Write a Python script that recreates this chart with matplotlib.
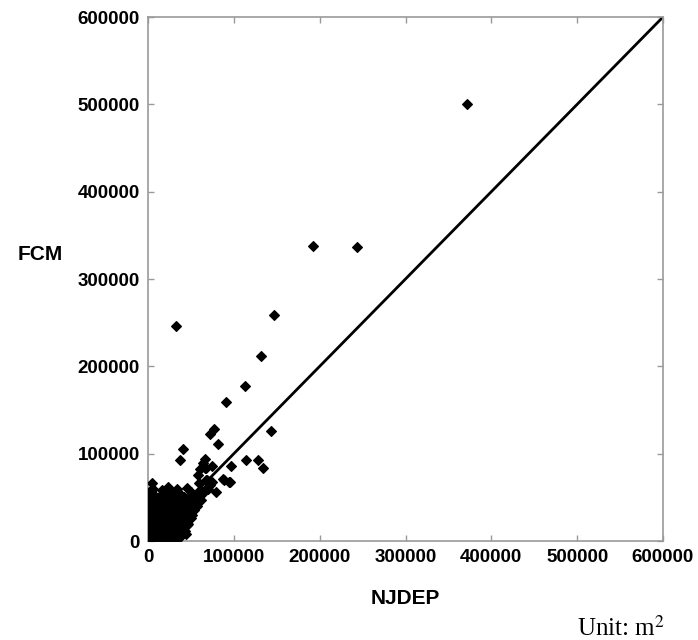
import matplotlib
matplotlib.use("Agg")
import matplotlib.pyplot as plt

# Data in m^2 (values read in thousands, then scaled)
njdep_k = [
    # dense cluster near origin
    1, 2, 3, 1, 4, 2, 5, 3, 1, 6, 2, 4, 7, 3, 5, 8, 4, 6, 5, 9, 8, 9, 10, 7, 10, 6, 12, 2, 1, 3,
    12, 14, 11, 15, 13, 16, 12, 18, 14, 17, 13, 19, 23, 16, 20, 18, 19, 16, 20, 14, 22, 24,
    21, 25, 22, 27, 24, 29, 26, 30, 23, 28, 25, 27, 29, 26, 30, 22, 28,
    32, 34, 31, 36, 33, 38, 35, 34, 37, 33, 39, 34, 36, 31, 38, 40, 35,
    42, 44, 41, 46, 43, 48, 45, 42, 47, 45, 49, 45,
    51, 54, 52, 56, 54, 58, 59, 58, 62, 57, 50, 53, 60,
    33, 38, 43, 47, 50, 44, 40, 36, 28, 24, 18, 9, 11, 7, 15, 21, 26, 31, 4, 6,
    17, 20, 10, 8, 13, 25, 32, 39, 41, 55, 48, 37,
    # along the line / moderate values
    64, 66, 68, 70, 72, 74, 67, 61, 64.5, 75, 87, 94.8, 79.6, 66.8, 36.9, 41.1,
    72.6, 76.9, 81.6, 114.2, 128.2, 134.4, 142.9, 97.1, 88, 95.5, 66.4, 68.4,
    # outliers
    90.5, 113.4, 131.3, 147, 32.6, 192, 243.5, 372,
]
fcm_k = [
    2, 5, 1, 8, 12, 15, 18, 22, 26, 28, 32, 36, 40, 44, 48, 52, 56, 60, 66, 46, 33, 24, 14, 7, 4, 3, 2, 40, 50, 58,
    8, 12, 18, 22, 27, 31, 35, 38, 42, 46, 50, 54, 62, 58, 50, 26, 17, 6, 3, 1, 8, 13,
    21, 24, 29, 33, 37, 41, 45, 48, 44, 53, 57, 18, 10, 5, 2, 40, 28,
    6, 12, 16, 20, 25, 30, 34, 39, 43, 48, 52, 60, 55, 30, 15, 22, 3,
    20, 26, 32, 35, 40, 44, 48, 50, 30, 18, 38, 61,
    30, 36, 42, 45, 53, 48, 66, 76, 47, 40, 56, 52, 58,
    1, 6, 12, 20, 26, 8, 10, 8, 0.5, 4, 1, 10, 30, 20, 35, 45, 35, 45, 30, 22,
    28, 36, 42, 47, 32, 50, 28, 24, 28, 44, 35, 20,
    55, 58, 70, 60, 64, 68, 84, 83, 89, 86, 70.6, 67.6, 56.1, 93.9, 92.4, 105,
    122.2, 128.2, 110.7, 92.4, 92.7, 83.2, 126, 85.9, 70, 68, 83.2, 70,
    158.8, 177.1, 211.8, 259, 246.5, 338, 336.5, 500,
]
scale = 1000
njdep = [v * scale for v in njdep_k]
fcm = [v * scale for v in fcm_k]

axis_max = 600000
ticks = [0, 100000, 200000, 300000, 400000, 500000, 600000]
tick_labels = ["0", "100000", "200000", "300000", "400000", "500000", "600000"]

fig = plt.figure(figsize=(6.98, 6.40), dpi=100)
ax = fig.add_axes([148 / 698, 99 / 640, 515 / 698, 524 / 640])

ax.plot([0, axis_max], [0, axis_max], color="black", linewidth=2.0, zorder=2)
ax.plot(njdep, fcm, linestyle="none", marker="D", markersize=4.8,
        color="black", markeredgewidth=0.8, zorder=3)

ax.set_xlim(0, axis_max)
ax.set_ylim(0, axis_max)
ax.set_xticks(ticks)
ax.set_yticks(ticks)
ax.set_xticklabels(tick_labels)
ax.set_yticklabels(tick_labels)

grey = "#999999"
for s in ax.spines.values():
    s.set_color(grey)
    s.set_linewidth(1.2)
ax.tick_params(direction="in", length=4, width=1.0, color=grey,
               top=True, right=True, labelsize=13.5, labelcolor="black", pad=6)
for lab in ax.get_xticklabels() + ax.get_yticklabels():
    lab.set_fontweight("bold")
    lab.set_fontfamily("Liberation Sans")

fig.text(40 / 698, 1 - 255 / 640, "FCM", fontsize=15, fontweight="bold",
         family="Liberation Sans", ha="center", va="center")
fig.text(405 / 698, 1 - 598 / 640, "NJDEP", fontsize=15, fontweight="bold",
         family="Liberation Sans", ha="center", va="center")

plt.rcParams["mathtext.fontset"] = "stix"
fig.text(577 / 698, 1 - 636 / 640, "Unit: m$^2$", fontsize=18,
         family="Liberation Serif", ha="left", va="baseline")

fig.savefig("out.png", dpi=100)
